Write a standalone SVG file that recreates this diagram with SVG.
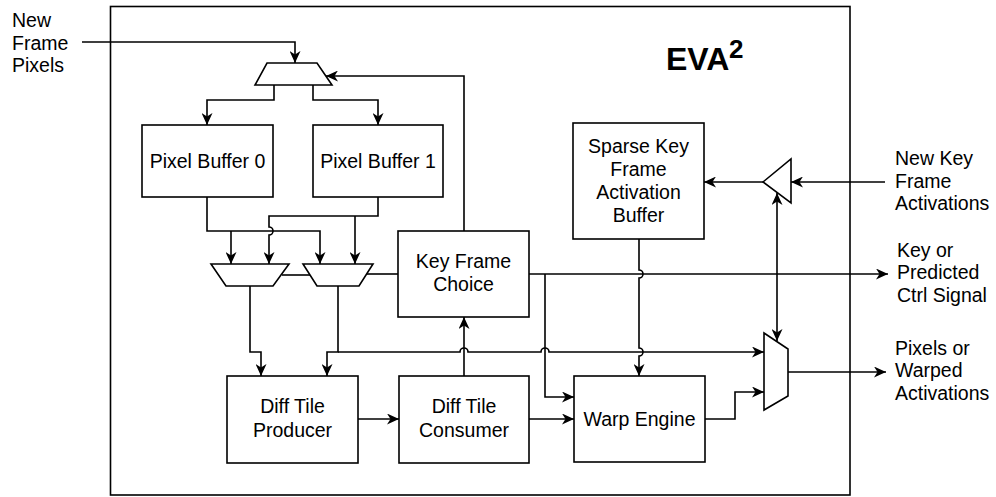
<svg xmlns="http://www.w3.org/2000/svg" width="996" height="497" viewBox="0 0 996 497">
<defs>
<marker id="arr" markerUnits="userSpaceOnUse" markerWidth="13" markerHeight="11" refX="12" refY="5.5" orient="auto">
<path d="M0,0 L12,5.5 L0,11 L3.5,5.5 z" fill="#000"/>
</marker>
<marker id="arrs" markerUnits="userSpaceOnUse" markerWidth="13" markerHeight="11" refX="1" refY="5.5" orient="auto">
<path d="M13,0 L1,5.5 L13,11 L9.5,5.5 z" fill="#000"/>
</marker>
</defs>
<style>
.box{fill:#fff;stroke:#000;stroke-width:1.6}
.ln{fill:none;stroke:#000;stroke-width:1.6}
.a{marker-end:url(#arr)}
text{font-family:"Liberation Sans",Arial,Helvetica,sans-serif;font-size:19.5px;fill:#000}
.c{text-anchor:middle}
</style>
<rect id="frame" x="110.5" y="6.5" width="739.5" height="488.5" fill="none" stroke="#000" stroke-width="1.6"/>
<g id="title"><text x="666" y="70" style="font-size:32px;font-weight:bold">EVA</text><text x="729" y="58" style="font-size:26px;font-weight:bold">2</text></g>
<g id="connectors">
<path class="ln a" d="M82,42 H295 V63"/>
<path class="ln a" d="M464,231 V76 H326"/>
<path class="ln a" d="M274,85 V100 H207 V125"/>
<path class="ln a" d="M313,85 V100 H378 V125"/>
<path class="ln a" d="M207,197 V231 H320 V264"/>
<path class="ln a" d="M231,231 V264"/>
<path class="ln a" d="M378,197 V216 H269 V227 A4,4 0 0 1 269,235 V264"/>
<path class="ln a" d="M355,216 V264"/>
<path class="ln" d="M282,275 H310"/>
<path class="ln" d="M366,274 H398"/>
<path class="ln a" d="M250,286 V352 H261 V376"/>
<path class="ln a" d="M338,286 V352 H327 V376"/>
<path class="ln a" d="M338,352 H460 A4,4 0 0 1 468,352 H541 A4,4 0 0 1 549,352 H764"/>
<path class="ln a" d="M358,419 H399"/>
<path class="ln a" d="M464,376 V317"/>
<path class="ln a" d="M529,419 H574"/>
<path class="ln a" d="M529,274 H888"/>
<path class="ln a" d="M545,274 V397 H574"/>
<path class="ln a" d="M639,239 V270 A4,4 0 0 1 639,278 V348 A4,4 0 0 1 639,356 V376"/>
<path class="ln a" d="M705,419 H735 V392 H764"/>
<path class="ln a" d="M788,372 H886"/>
<path class="ln a" d="M885,182 H791"/>
<path class="ln a" d="M763,182 H704"/>
<path class="ln a" d="M777,193 V341" style="marker-start:url(#arrs)"/>
</g>
<g id="mux_top"><polygon class="box" points="267,63 317,63 332,85 255,85"/></g>
<g id="mux_a"><polygon class="box" points="211,264 289,264 273,286 226,286"/></g>
<g id="mux_b"><polygon class="box" points="303,264 373,264 359,286 317,286"/></g>
<g id="mux_out"><polygon class="box" points="764,333 788,349 788,396 764,410"/></g>
<g id="tri_buf"><polygon class="box" points="763,182 791,159 791,203"/></g>
<g id="pb0"><rect class="box" x="142" y="125" width="131" height="72"/><text class="c" x="207.5" y="168">Pixel Buffer 0</text></g>
<g id="pb1"><rect class="box" x="313" y="125" width="130" height="72"/><text class="c" x="378" y="168">Pixel Buffer 1</text></g>
<g id="kfc"><rect class="box" x="398" y="231" width="131" height="86"/><text class="c" x="463.5" y="268">Key Frame</text><text class="c" x="463.5" y="291">Choice</text></g>
<g id="skfab"><rect class="box" x="573" y="123" width="131" height="116"/><text class="c" x="638.5" y="153">Sparse Key</text><text class="c" x="638.5" y="176">Frame</text><text class="c" x="638.5" y="199">Activation</text><text class="c" x="638.5" y="222">Buffer</text></g>
<g id="dtp"><rect class="box" x="227" y="376" width="131" height="87"/><text class="c" x="292.5" y="413">Diff Tile</text><text class="c" x="292.5" y="437">Producer</text></g>
<g id="dtc"><rect class="box" x="399" y="376" width="130" height="87"/><text class="c" x="464" y="413">Diff Tile</text><text class="c" x="464" y="437">Consumer</text></g>
<g id="we"><rect class="box" x="574" y="376" width="131" height="86"/><text class="c" x="639.5" y="426">Warp Engine</text></g>
<g id="labels">
<text x="12" y="27">New</text><text x="12" y="50">Frame</text><text x="12" y="72">Pixels</text>
<text x="895" y="165">New Key</text><text x="895" y="188">Frame</text><text x="895" y="210">Activations</text>
<text x="897" y="257">Key or</text><text x="897" y="279">Predicted</text><text x="897" y="302">Ctrl Signal</text>
<text x="895" y="355">Pixels or</text><text x="895" y="377">Warped</text><text x="895" y="400">Activations</text>
</g>
</svg>
